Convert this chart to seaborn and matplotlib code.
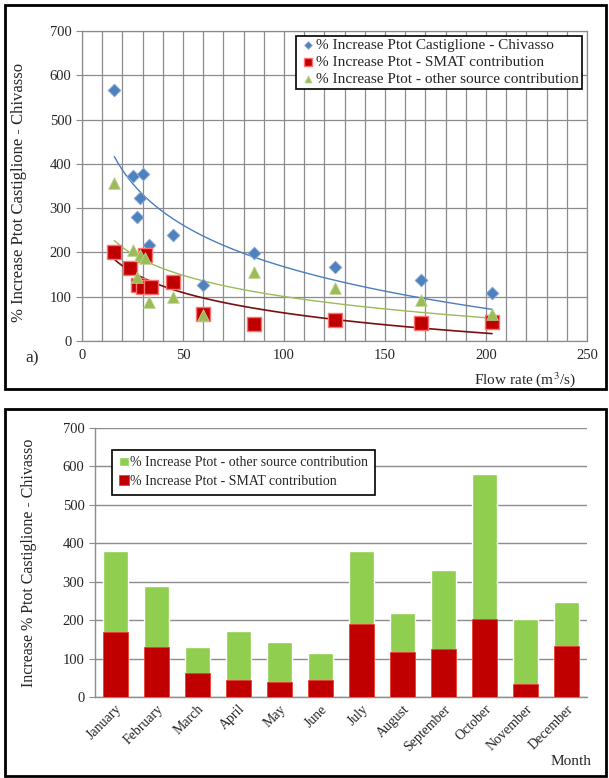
import numpy as np
import pandas as pd
import matplotlib
matplotlib.use("Agg")
import matplotlib.pyplot as plt
from matplotlib.patches import Rectangle
import seaborn as sns

# --- panel a) : % increase vs flow rate ---
flow_tot = [16, 25, 30, 28.5, 27, 33, 45, 60, 85, 125, 168, 203]
incr_tot = [566, 373, 378, 322, 281, 217, 240, 126, 198, 168, 137, 108]

flow_smat = [16, 24, 27.5, 30, 34, 31, 45, 60, 85, 125, 168, 203]
incr_smat = [201, 164, 126, 122, 122, 194, 134, 62, 38, 47, 40, 42]

flow_other = [16, 25, 28.5, 31, 27, 33, 45, 60, 85, 125, 168, 203]
incr_other = [357, 205, 194, 187, 145, 88, 100, 58, 156, 119, 93, 62]

# --- panel b) : monthly stacked bars ---
months = ["January", "February", "March", "April", "May", "June", "July",
          "August", "September", "October", "November", "December"]
smat_month = [168, 130, 63, 44, 39, 44, 191, 118, 125, 204, 35, 133]
other_month = [213, 159, 66, 127, 103, 70, 190, 100, 206, 377, 169, 113]

lab_tot = "% Increase Ptot Castiglione - Chivasso"
lab_smat = "% Increase Ptot - SMAT contribution"
lab_other = "% Increase Ptot - other source contribution"

sns.set_style("white")
plt.rcParams['font.family'] = ['Liberation Serif', 'DejaVu Serif']
plt.rcParams['mathtext.fontset'] = 'stix'

W, H = 609, 778
fig = plt.figure(figsize=(W / 100, H / 100), dpi=100)
grid_c = "#8c8c8c"

# ---------------- top chart ----------------
ax1 = fig.add_axes([82 / W, 1 - 341 / H, 505 / W, 310 / H])
sns.regplot(x=flow_tot, y=incr_tot, logx=True, ci=None, scatter=False, truncate=True,
            line_kws=dict(color="#4a7ebb", lw=1.0), ax=ax1)
sns.regplot(x=flow_other, y=incr_other, logx=True, ci=None, scatter=False, truncate=True,
            line_kws=dict(color="#9bbb59", lw=1.0), ax=ax1)
sns.regplot(x=flow_smat, y=incr_smat, logx=True, ci=None, scatter=False, truncate=True,
            line_kws=dict(color="#7a0f0f", lw=1.2), ax=ax1)

sns.scatterplot(x=flow_tot, y=incr_tot, marker="D", s=42, color="#4f81bd",
                edgecolor="#8aaad8", linewidth=0.6, label=lab_tot, ax=ax1, zorder=3)
sns.scatterplot(x=flow_smat, y=incr_smat, marker="s", s=95, color="#c00000",
                edgecolor="#ff7070", linewidth=1.0, label=lab_smat, ax=ax1, zorder=3)
sns.scatterplot(x=flow_other, y=incr_other, marker="^", s=70, color="#9bbb59",
                edgecolor="#b9d48a", linewidth=0.6, label=lab_other, ax=ax1, zorder=4)

ax1.set_xlim(0, 250)
ax1.set_ylim(0, 700)
ax1.set_xticks(np.arange(0, 251, 50))
ax1.set_xticks(np.arange(0, 251, 10), minor=True)
ax1.set_yticks(np.arange(0, 701, 100))
ax1.grid(True, which="both", axis="x", color=grid_c, lw=0.9)
ax1.grid(True, which="major", axis="y", color=grid_c, lw=0.9)
ax1.set_axisbelow(True)
for sp in ax1.spines.values():
    sp.set_color(grid_c)
    sp.set_linewidth(0.9)
ax1.tick_params(axis="both", which="major", labelsize=10.5, length=4, color=grid_c, direction="out")
ax1.tick_params(axis="x", which="minor", length=0)
ax1.tick_params(axis="x", which="major", length=0, pad=6)
ax1.tick_params(axis="y", left=True)
ax1.set_ylabel(lab_tot, fontsize=12)
ax1.yaxis.set_label_coords(-0.108, 0.48)
ax1.set_xlabel("Flow rate (m$^3$/s)", fontsize=11)
ax1.xaxis.set_label_coords(0.978, -0.095)
ax1.xaxis.label.set_ha("right")
leg1 = ax1.legend(loc="upper right", bbox_to_anchor=(0.99, 0.985), fontsize=11,
                  frameon=True, fancybox=False, edgecolor="black", framealpha=1,
                  borderpad=0.2, handletextpad=0.0, labelspacing=0.2,
                  handlelength=1.1, borderaxespad=0, markerscale=0.6)
leg1.get_frame().set_linewidth(1.2)
fig.text(25 / W, 1 - 358 / H, "a)", fontsize=12.5, va="center")

# ---------------- bottom chart ----------------
ax2 = fig.add_axes([95 / W, 1 - 697 / H, 492 / W, 269 / H])
df = pd.DataFrame({"month": months, "smat": smat_month, "other": other_month})
df["total"] = df["smat"] + df["other"]
sns.barplot(data=df, x="month", y="total", color="#8fce4e", saturation=1, width=0.62,
            label=lab_other, ax=ax2, zorder=2)
sns.barplot(data=df, x="month", y="smat", color="#c00000", saturation=1, width=0.62,
            label=lab_smat, ax=ax2, zorder=3, edgecolor="#e84030", linewidth=0.6)
ax2.set_ylim(0, 700)
ax2.set_yticks(np.arange(0, 701, 100))
ax2.grid(True, axis="y", color=grid_c, lw=1.0)
ax2.set_axisbelow(True)
for s in ["top", "right"]:
    ax2.spines[s].set_visible(False)
for s in ["left", "bottom"]:
    ax2.spines[s].set_color(grid_c)
    ax2.spines[s].set_linewidth(1.0)
ax2.tick_params(axis="y", labelsize=10.5, length=4, color=grid_c, left=True)
ax2.tick_params(axis="x", labelsize=10, length=0, pad=4)
plt.setp(ax2.get_xticklabels(), rotation=45, ha="right", rotation_mode="anchor")
ax2.set_ylabel("Increase % Ptot Castiglione - Chivasso", fontsize=11.5)
ax2.yaxis.set_label_coords(-0.118, 0.5)
ax2.set_xlabel("Month", fontsize=11)
ax2.xaxis.set_label_coords(1.008, -0.215)
ax2.xaxis.label.set_ha("right")
leg2 = ax2.legend(loc="upper left", bbox_to_anchor=(0.035, 0.92), fontsize=10,
                  frameon=True, fancybox=False, edgecolor="black", framealpha=1,
                  borderpad=0.5, handletextpad=0.1, labelspacing=0.4,
                  handlelength=0.7, handleheight=0.7, borderaxespad=0)
leg2.get_frame().set_linewidth(1.2)

# panel frames
fig.add_artist(Rectangle((5 / W, 1 - 389 / H), 601 / W, 384 / H, fill=False,
                         lw=2, edgecolor="black", transform=fig.transFigure))
fig.add_artist(Rectangle((5 / W, 1 - 776 / H), 601 / W, 367 / H, fill=False,
                         lw=2, edgecolor="black", transform=fig.transFigure))

fig.savefig("out.png", dpi=100)
